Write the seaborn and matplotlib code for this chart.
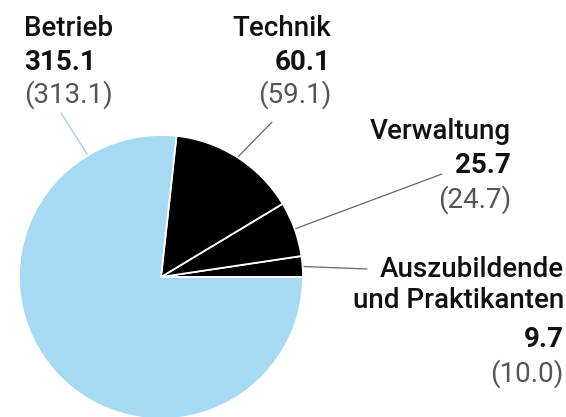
import numpy as np
import seaborn as sns
import matplotlib.pyplot as plt

# Werte (Anteile der Belegschaft), Reihenfolge gegen den Uhrzeigersinn ab 3 Uhr
categories = ["Auszubildende\nund Praktikanten", "Verwaltung", "Technik", "Betrieb"]
values = [9.7, 25.7, 60.1, 315.1]
prev_values = [10.0, 24.7, 59.1, 313.1]
colors = ["#000000", "#000000", "#000000", "#a6daf2"]

sns.set_theme(style="white")
plt.rcParams["font.family"] = ["Roboto", "DejaVu Sans"]

W, H = 566, 417
fig = plt.figure(figsize=(W / 100, H / 100), dpi=100)
ax = fig.add_axes([0, 0, 1, 1])

cx, cy, r = 161, H - 277, 142
wedges, _ = ax.pie(values, colors=colors, startangle=0, counterclock=True,
                   center=(cx, cy), radius=r, frame=True,
                   wedgeprops=dict(edgecolor="white", linewidth=1.3))
ax.set_xlim(0, W)
ax.set_ylim(0, H)
ax.set_aspect("equal")
ax.axis("off")

# Layout der Beschriftungen (Pixel vom oberen Rand)
layout = [
    dict(x=564, ha="right", ys=[277, 308, 347, 382], ang=None, end=(367, 269), lc="#666666"),
    dict(x=511, ha="right", ys=[139, 173, 208], ang=None, end=(442, 174), lc="#666666"),
    dict(x=331, ha="right", ys=[36, 70, 103], ang=None, end=(272, 122), lc="#666666"),
    dict(x=24, ha="left", ys=[36, 70, 103], ang=121, end=(61, 113), lc="#8fd0ee"),
]

fs = 20
for w, cat, val, prev, lay in zip(wedges, categories, values, prev_values, layout):
    ang = lay["ang"] if lay["ang"] is not None else (w.theta1 + w.theta2) / 2
    a = np.deg2rad(ang)
    x0, y0 = cx + r * np.cos(a), cy + r * np.sin(a)
    ex, ey = lay["end"]
    ax.plot([x0, ex], [y0, H - ey], color=lay["lc"], lw=0.9, zorder=0)
    lines = cat.split("\n")
    ys = lay["ys"]
    for i, ln in enumerate(lines):
        ax.text(lay["x"], H - ys[i], ln, ha=lay["ha"], va="baseline",
                fontsize=fs, fontweight="medium", color="#111111")
    k = len(lines)
    ax.text(lay["x"], H - ys[k], f"{val:.1f}", ha=lay["ha"], va="baseline",
            fontsize=fs, fontweight="bold", color="#111111")
    ax.text(lay["x"], H - ys[k + 1], f"({prev:.1f})", ha=lay["ha"], va="baseline",
            fontsize=fs, fontweight="normal", color="#555555")

fig.savefig("out.png", dpi=100)
